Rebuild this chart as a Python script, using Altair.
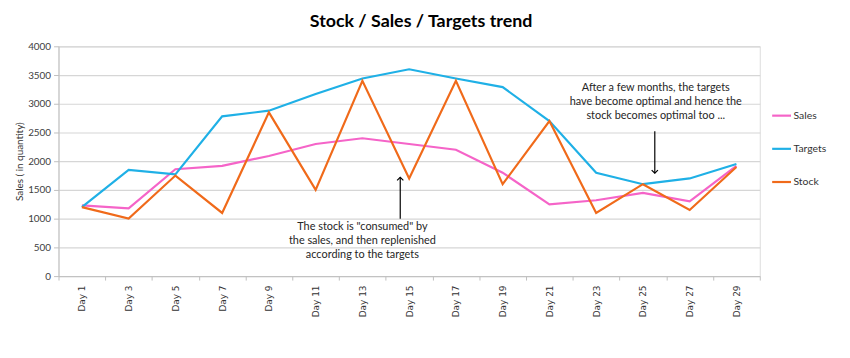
import altair as alt
import pandas as pd

days = ["Day 1", "Day 3", "Day 5", "Day 7", "Day 9", "Day 11", "Day 13", "Day 15",
        "Day 17", "Day 19", "Day 21", "Day 23", "Day 25", "Day 27", "Day 29"]
sales = [1230, 1180, 1860, 1920, 2090, 2300, 2400, 2300, 2200, 1800, 1250, 1320, 1450, 1300, 1920]
targets = [1200, 1850, 1770, 2780, 2880, 3170, 3440, 3600, 3440, 3290, 2700, 1800, 1600, 1700, 1950]
stock = [1200, 1000, 1750, 1100, 2850, 1500, 3400, 1700, 3400, 1600, 2700, 1100, 1600, 1150, 1900]
series_names = ["Sales", "Targets", "Stock"]
series_colors = ["#f564c8", "#1fb0e6", "#f06a1a"]
y_ticks = [0, 500, 1000, 1500, 2000, 2500, 3000, 3500, 4000]

# annotations (anchored in data coordinates)
note_days = ["Day 13", "Day 25"]
note_values = [855, 3270]
note_texts = ['The stock is "consumed" by\nthe sales, and then replenished\naccording to the targets',
              "After a few months, the targets\nhave become optimal and hence the\nstock becomes optimal too ..."]
arrow_days = ["Day 15", "Day 25"]
arrow_from = [1000, 2520]
arrow_to = [1720, 1790]

rows = []
for name, vals in zip(series_names, [sales, targets, stock]):
    for d, v in zip(days, vals):
        rows.append({"Day": d, "Series": name, "Value": v})
df = pd.DataFrame(rows)

x_axis = alt.Axis(title=None, labelAngle=-90, tickBand="extent", grid=False,
                  labelFont="DejaVu Sans", labelFontSize=9, labelColor="#333333",
                  tickSize=4, labelPadding=5, domainColor="#bfbfbf", tickColor="#bfbfbf")
x_scale = alt.Scale(type="band", paddingInner=0, paddingOuter=0)
y_axis = alt.Axis(title="Sales ( in quantity)", values=y_ticks, format="d",
                  labelOverlap=False, grid=True, gridColor="#d6d6d6", gridWidth=1.2,
                  domainColor="#bfbfbf", tickColor="#bfbfbf", tickSize=5,
                  labelFont="Lato", labelFontSize=10, labelColor="#404040",
                  labelPadding=3, titleFont="Lato", titleFontSize=10,
                  titleFontWeight="normal", titleColor="#333333", titlePadding=3)
y_scale = alt.Scale(domain=[0, 4000], nice=False)


def xe():
    return alt.X("Day:N", sort=days, scale=x_scale, axis=x_axis)


def ye(field):
    return alt.Y(field, scale=y_scale, axis=y_axis)


lines = alt.Chart(df).mark_line(strokeWidth=2.2).encode(
    x=xe(),
    y=ye("Value:Q"),
    color=alt.Color("Series:N", sort=series_names,
                    scale=alt.Scale(domain=series_names, range=series_colors),
                    legend=alt.Legend(title=None, orient="none", legendX=719, legendY=59,
                                      symbolType="stroke", symbolSize=361,
                                      symbolStrokeWidth=2.2, rowPadding=16.5,
                                      labelFont="Lato", labelFontSize=10.5,
                                      labelColor="#333333", labelOffset=1)),
)

notes_df = pd.DataFrame({"Day": note_days, "Value": note_values, "Text": note_texts})
note1 = alt.Chart(notes_df.iloc[[0]]).mark_text(
    font="Lato", fontSize=11, color="#262626", lineBreak="\n", lineHeight=14,
    align="center", baseline="middle").encode(x=xe(), y=ye("Value:Q"), text="Text:N")
note2 = alt.Chart(notes_df.iloc[[1]]).mark_text(
    font="Lato", fontSize=11, color="#262626", lineBreak="\n", lineHeight=14,
    align="center", baseline="middle", dx=13).encode(x=xe(), y=ye("Value:Q"), text="Text:N")

arrows_df = pd.DataFrame({"Day": arrow_days, "From": arrow_from, "To": arrow_to})
arrow1 = alt.Chart(arrows_df.iloc[[0]]).mark_rule(color="#000000", strokeWidth=1.2, xOffset=-9).encode(
    x=xe(), y=ye("From:Q"), y2="To:Q")
head1 = alt.Chart(arrows_df.iloc[[0]]).mark_point(
    shape="M-1,1L0,0L1,1", filled=False, color="#000000", strokeWidth=1.2, size=40,
    xOffset=-9, opacity=1).encode(x=xe(), y=ye("To:Q"))
arrow2 = alt.Chart(arrows_df.iloc[[1]]).mark_rule(color="#000000", strokeWidth=1.2, xOffset=12).encode(
    x=xe(), y=ye("From:Q"), y2="To:Q")
head2 = alt.Chart(arrows_df.iloc[[1]]).mark_point(
    shape="M-1,-1L0,0L1,-1", filled=False, color="#000000", strokeWidth=1.2, size=40,
    xOffset=12, opacity=1).encode(x=xe(), y=ye("To:Q"))

chart = alt.layer(lines, note1, note2, arrow1, head1, arrow2, head2).properties(
    width=708, height=232,
    autosize=alt.AutoSizeParams(type="none"),
    padding={"left": 51, "top": 37, "right": 83, "bottom": 81},
    title=alt.TitleParams("Stock / Sales / Targets trend", font="Lato", fontSize=18,
                          fontWeight="bold", color="#000000", dx=12, offset=10,
                          anchor="middle"),
).configure_view(stroke=None).configure(background="white")

chart.save("out.html", embed_options={"renderer": "svg", "actions": False})
